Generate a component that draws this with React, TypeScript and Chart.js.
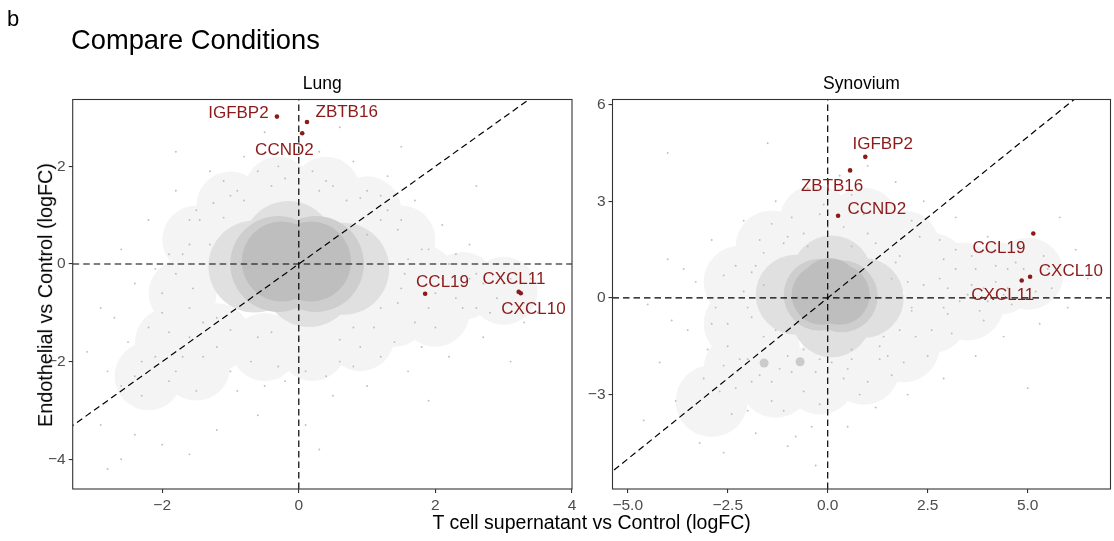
import React, { useEffect, useRef } from "react";
import { Chart, registerables } from "chart.js";

Chart.register(...registerables);

const FONT = '"Liberation Sans", Arial, Helvetica, sans-serif';
const RED = "#8B1A1A";

// ---------------- data ----------------
const geneNames = ["IGFBP2", "ZBTB16", "CCND2", "CCL19", "CXCL11", "CXCL10"];

// Lung panel: highlighted genes
const lungGeneX = [-0.32, 0.12, 0.05, 1.85, 3.22, 3.25];
const lungGeneY = [3.02, 2.91, 2.68, -0.61, -0.57, -0.6];
// Synovium panel: highlighted genes
const synGeneX = [0.94, 0.56, 0.26, 5.14, 4.85, 5.06];
const synGeneY = [4.38, 3.96, 2.55, 2.0, 0.54, 0.66];

// axes
const lungXLim = [-3.31, 4.0];
const lungYLim = [-4.61, 3.37];
const synXLim = [-5.38, 7.07];
const synYLim = [-5.93, 6.16];
const lungXTicks = [-2, 0, 2, 4];
const lungXLabels = ["\u22122", "0", "2", "4"];
const lungYTicks = [-4, -2, 0, 2];
const lungYLabels = ["\u22124", "\u22122", "0", "2"];
const synXTicks = [-5, -2.5, 0, 2.5, 5];
const synXLabels = ["\u22125.0", "\u22122.5", "0.0", "2.5", "5.0"];
const synYTicks = [-3, 0, 3, 6];
const synYLabels = ["\u22123", "0", "3", "6"];

// reference lines: horizontal / vertical at 0, identity diagonal
const refZero = 0;
const diagSpan = [-8, 8];

// background gene cloud (estimated density zones + sparse genes), Lung
const lungCore = [[-0.25, 0.05], [0.18, 0.05]];
const lungInner = [[-0.3, 0.0], [0.25, 0.0]];
const lungMid = [[-0.65, -0.05], [0.65, -0.1], [-0.15, 0.35], [0.15, -0.35]];
const lungFaint = [
  [-1.5, 0.5], [-1.0, 1.2], [-0.3, 1.5], [0.4, 1.5], [1.0, 1.1], [1.5, 0.5],
  [1.8, -0.3], [2.4, -0.45], [3.0, -0.55], [1.4, -1.0], [0.9, -1.5], [0.2, -1.7],
  [-0.5, -1.7], [-1.2, -1.5], [-1.7, -0.6], [-1.9, -1.6], [-2.2, -2.3], [-1.5, -2.1],
  [2.0, -1.0],
];
const lungDots = [
  [-2.8, -4.2], [-2.6, -4.0], [-2.4, -3.5], [-2.9, -3.3], [-2.0, -3.7], [-1.6, -3.9],
  [-1.2, -3.4], [-0.6, -3.1], [0.1, -3.3], [0.5, -2.7], [-0.2, -2.4], [-0.9, -2.6],
  [-1.5, -2.6], [-2.3, -2.7], [-2.8, -2.2], [-2.5, -1.6], [-2.9, -0.9], [-2.4, -0.4],
  [-2.6, 0.3], [-2.2, 0.9], [-1.8, 1.5], [-1.3, 1.9], [-0.8, 2.2], [-0.3, 2.0],
  [0.3, 2.3], [0.8, 2.1], [1.3, 1.8], [1.7, 1.3], [2.1, 0.8], [2.5, 0.4], [2.9, 0.0],
  [3.4, -0.3], [3.7, -0.8], [3.3, -1.2], [2.7, -1.5], [2.2, -1.9], [1.6, -2.2],
  [1.0, -2.5], [0.6, -2.0], [1.4, -1.6], [2.0, -1.3], [2.4, -0.9], [2.9, -0.7],
  [1.9, 0.3], [1.5, 0.9], [1.0, 1.5], [0.4, 1.7], [-0.4, 1.6], [-1.0, 1.4],
  [-1.6, 0.9], [-1.9, 0.2], [-2.0, -0.6], [-1.9, -1.4], [-1.4, -1.9], [-0.7, -2.0],
  [0.0, -1.9], [0.9, -1.7], [-0.5, 2.7], [0.6, 2.8], [1.5, 2.4], [-1.8, 2.3],
  [2.6, 1.6], [3.1, -2.0], [-3.1, -1.8], [0.0, 2.5], [0.3, -3.8], [1.9, -2.8],
  [2.3, 0.2], [3.0, -0.4], [2.6, -0.2],
  [-1.7, 0.2], [-1.5, 1.1], [-1.1, 1.7], [-0.6, 1.9], [0.2, 1.9], [0.7, 1.3],
  [1.2, 0.9], [1.6, 0.1], [2.0, -0.6], [2.5, -0.3], [2.8, -1.0], [3.2, -0.6],
  [3.5, -1.0], [1.7, -1.2], [1.2, -1.9], [0.4, -2.3], [-0.3, -2.1], [-1.0, -2.2],
  [-1.7, -1.9], [-2.2, -1.3], [-2.1, -0.1], [-1.6, -0.9], [-2.3, -2.0], [-2.6, -2.5],
  [-1.9, -2.4], [1.5, -0.5], [2.2, 0.0], [-1.3, 0.4], [-1.2, -1.1], [1.2, -0.9],
  [0.8, -1.3], [-0.4, -1.4], [0.3, 1.5], [-0.8, 1.3], [1.0, 0.6],
  [-1.45, 0.9], [-1.25, 1.25], [-0.9, 1.5], [-0.2, 1.75], [0.5, 1.6], [0.9, 1.35],
  [1.3, 1.1], [1.45, 0.7], [1.55, -0.2], [1.45, -0.8], [1.1, -1.3], [0.6, -1.55],
  [0.0, -1.55], [-0.6, -1.5], [-1.0, -1.35], [-1.4, -1.2], [-1.55, -0.5], [-1.6, 0.4],
  [-1.8, -0.2], [1.8, 0.3], [1.9, -0.9], [2.3, -0.7], [2.6, -0.9], [2.1, -0.3],
  [2.7, -0.4], [3.1, -0.3], [3.3, -0.8], [-1.2, -1.7], [-1.6, -1.5], [-2.0, -1.0],
  [-2.1, -1.9], [-1.8, -2.2], [-2.4, -2.3], [-1.1, 0.95], [1.2, 1.4], [0.1, -2.2],
  [-0.5, -2.5], [0.8, -2.1], [1.8, -1.7], [-2.7, -1.1],
];

// background gene cloud, Synovium
const synCore = [[-0.15, 0.1], [0.3, 0.1], [0.05, 0.3]];
const synInner = [[-0.2, 0.1], [0.35, 0.05]];
const synMid = [[-0.8, 0.1], [0.9, 0.0], [0.1, 0.7], [0.1, -0.6]];
const synFaint = [
  [-2.2, 0.5], [-1.4, 1.6], [-0.3, 2.4], [0.9, 2.3], [1.9, 1.6], [2.6, 0.9],
  [3.4, 0.6], [4.3, 0.6], [5.0, 0.75], [2.6, -0.6], [3.5, -0.2], [-2.2, -0.8],
  [-2.2, -2.2], [-1.3, -2.6], [-0.2, -2.5], [0.9, -2.2], [1.9, -1.5], [-2.9, -3.2],
  [-1.6, -1.5],
];
const synSpots = [[-1.59, -2.02], [-0.69, -1.98]];
const synDots = [
  [-4.5, -0.2], [-4.0, 1.2], [-3.5, -1.0], [-4.2, -2.0], [-3.8, -3.2], [-4.6, -3.8],
  [-3.2, -4.5], [-2.6, -4.8], [-1.8, -4.2], [-1.0, -4.6], [-0.3, -5.2], [0.5, -4.0],
  [1.2, -3.4], [2.0, -3.0], [2.9, -2.5], [3.7, -1.8], [4.4, -1.2], [5.3, -0.8],
  [6.0, -0.3], [6.5, 0.6], [6.2, 1.5], [5.8, 2.5], [5.4, 1.3], [4.8, 1.6], [4.0, 1.9],
  [3.2, 2.5], [2.4, 3.0], [1.7, 3.6], [1.0, 4.1], [0.3, 3.8], [-0.5, 3.4], [-1.3, 3.0],
  [-2.1, 2.4], [-2.9, 1.8], [-3.3, 0.5], [-2.8, -0.3], [-3.0, -1.6], [-2.7, -2.9],
  [-2.0, -3.5], [-1.1, -3.5], [-0.2, -3.3], [0.8, -3.0], [1.6, -2.4], [2.5, -1.8],
  [3.1, -1.1], [3.9, -0.7], [4.6, -0.2], [5.6, 0.3], [4.9, 0.9], [4.2, 1.0],
  [3.6, 1.3], [2.8, 1.8], [2.1, 2.4], [1.2, 2.9], [0.6, 3.2], [-0.1, 2.9],
  [-0.9, 2.5], [-1.7, 1.8], [-2.3, 1.0], [-2.5, -0.8], [-2.2, -1.9], [-1.4, -2.6],
  [-0.6, -2.9], [0.4, -2.5], [1.3, -1.9], [2.2, -1.2], [3.0, -0.5], [3.5, 0.1],
  [4.5, 0.3], [-4.0, 4.5], [-1.5, 4.8], [5.0, -2.8], [-0.8, -4.3],
  [-2.0, -0.3], [-1.8, 1.0], [-1.0, 1.9], [0.0, 2.2], [1.0, 2.0], [1.8, 1.3],
  [2.4, 0.4], [2.9, 1.2], [3.3, -0.1], [3.9, 0.3], [4.1, 1.4], [4.7, 1.1],
  [5.2, 0.2], [5.5, 0.9], [2.6, -1.0], [1.9, -2.0], [1.0, -2.6], [0.1, -2.0],
  [-0.9, -2.3], [-1.9, -2.6], [-2.5, -1.5], [-3.1, -2.5], [-2.4, -3.6], [-1.4, -3.2],
  [-0.4, -4.0], [1.6, 0.6], [2.1, -0.4], [-1.6, 0.4], [-1.3, -1.0], [-0.5, 1.6],
  [0.6, 1.6], [1.4, -1.2], [0.6, -1.6], [-0.6, -1.6], [-3.6, 0.9], [-3.9, -0.7],
  [4.0, -0.1], [3.0, 0.3], [3.7, 0.9], [4.5, 0.9],
  [-1.9, 0.8], [-1.6, 1.4], [-1.1, 1.7], [-0.6, 2.0], [0.4, 2.2], [1.2, 1.7],
  [1.7, 1.1], [2.0, 0.5], [2.1, -0.3], [1.8, -1.0], [1.3, -1.5], [0.6, -1.9],
  [-0.2, -1.9], [-1.0, -1.8], [-1.6, -1.2], [-1.9, -0.6], [-2.1, 0.2], [2.5, 0.0],
  [2.8, 0.6], [3.2, 0.9], [3.6, 0.4], [4.2, 0.5], [4.4, 0.1], [3.8, -0.4],
  [2.9, -0.3], [-2.0, -1.9], [-1.7, -2.4], [-2.3, -2.8], [-2.6, -2.1], [-1.2, -2.2],
  [-0.3, -2.3], [0.5, -2.2], [1.5, -1.8], [-2.6, 0.7], [-2.9, -0.8], [0.9, 2.6],
  [-0.2, 2.6], [-1.4, 2.3], [2.3, 1.9], [3.2, 1.5],
];

// ---------------- layout / style ----------------
// label offsets in pixels relative to the point (repelled label placement)
const lungLabelOffsets: Record<string, number[]> = {
  IGFBP2: [-38.5, -5], ZBTB16: [39.7, -10.7], CCND2: [-17.8, 15.3],
  CCL19: [17.4, -13.3], CXCL11: [-4.8, -13.7], CXCL10: [12.7, 14.4],
};
const synLabelOffsets: Record<string, number[]> = {
  IGFBP2: [17.4, -13.7], ZBTB16: [-18, 14.3], CCND2: [38.7, -7.7],
  CCL19: [-34.3, 13], CXCL11: [-18.9, 13.6], CXCL10: [40.8, -6.3],
};

const pts = (a: number[][]) => a.map(([x, y]) => ({ x, y }));

function blob(data: number[][], r: number, color: string, order: number) {
  return {
    data: pts(data),
    pointRadius: r,
    pointBackgroundColor: color,
    pointBorderWidth: 0,
    borderWidth: 0,
    order,
  };
}

function refLine(data: { x: number; y: number }[]) {
  return {
    data,
    showLine: true,
    borderColor: "#000000",
    borderWidth: 1.2,
    borderDash: [6.5, 4],
    pointRadius: 0,
    fill: false,
    order: 1,
  };
}

const boxPlugin = {
  id: "panelBox",
  afterDatasetsDraw(chart: any) {
    const { ctx, chartArea: a } = chart;
    ctx.save();
    ctx.strokeStyle = "#333333";
    ctx.lineWidth = 1.1;
    ctx.strokeRect(a.left, a.top, a.right - a.left, a.bottom - a.top);
    ctx.restore();
  },
};

function labelPlugin(offsets: Record<string, number[]>) {
  return {
    id: "geneLabels",
    afterDatasetsDraw(chart: any) {
      const { ctx } = chart;
      const meta = chart.getDatasetMeta(0);
      const size = 17;
      ctx.save();
      ctx.font = `${size}px ${FONT}`;
      ctx.fillStyle = RED;
      ctx.textAlign = "center";
      ctx.textBaseline = "alphabetic";
      geneNames.forEach((g, i) => {
        const el = meta.data[i];
        const [dx, dy] = offsets[g];
        ctx.fillText(g, el.x + dx, el.y + dy + 0.358 * size);
      });
      ctx.restore();
    },
  };
}

function makeConfig(s: any) {
  const genePts = s.geneX.map((x: number, i: number) => ({ x, y: s.geneY[i] }));
  const datasets: any[] = [
    {
      data: genePts,
      pointRadius: 2.3,
      pointBackgroundColor: RED,
      pointBorderWidth: 0,
      order: 0,
    },
    refLine([{ x: s.xLim[0], y: refZero }, { x: s.xLim[1], y: refZero }]),
    refLine([{ x: refZero, y: s.yLim[0] }, { x: refZero, y: s.yLim[1] }]),
    refLine([{ x: diagSpan[0], y: diagSpan[0] }, { x: diagSpan[1], y: diagSpan[1] }]),
    blob(s.dots, 0.95, "#BEBEBE", 2),
    blob(s.spots, 4.5, "#CBCBCB", 2),
    blob(s.core, s.coreR, "#BEBEBE", 3),
    blob(s.inner, s.innerR, "#CECECE", 4),
    blob(s.mid, s.midR, "#E0E0E0", 5),
    blob(s.faint, s.faintR, "#F4F4F4", 6),
  ];
  const tickFont = { family: FONT, size: 15.5 };
  const grid = {
    drawOnChartArea: false,
    drawTicks: true,
    tickLength: 4,
    color: "#333333",
    lineWidth: 1.1,
  };
  return {
    type: "scatter",
    data: { datasets },
    options: {
      animation: false,
      responsive: false,
      devicePixelRatio: 1,
      events: [],
      layout: { padding: s.pad, autoPadding: false },
      plugins: {
        legend: { display: false },
        tooltip: { enabled: false },
        title: { display: false },
      },
      scales: {
        x: {
          type: "linear",
          min: s.xLim[0],
          max: s.xLim[1],
          afterBuildTicks: (ax: any) => {
            ax.ticks = s.xTicks.map((v: number) => ({ value: v }));
          },
          afterFit: (ax: any) => {
            ax.height = 30;
          },
          ticks: {
            autoSkip: false,
            maxRotation: 0,
            padding: 3,
            color: "#4D4D4D",
            font: tickFont,
            callback: (_v: any, i: number) => s.xLabels[i],
          },
          grid,
          border: { display: false },
        },
        y: {
          type: "linear",
          min: s.yLim[0],
          max: s.yLim[1],
          afterBuildTicks: (ax: any) => {
            ax.ticks = s.yTicks.map((v: number) => ({ value: v }));
          },
          afterFit: (ax: any) => {
            ax.width = s.yAxisWidth;
          },
          ticks: {
            autoSkip: false,
            padding: 3,
            color: "#4D4D4D",
            font: tickFont,
            callback: (_v: any, i: number) => s.yLabels[i],
          },
          grid,
          border: { display: false },
        },
      },
    },
    plugins: [boxPlugin, labelPlugin(s.offsets)],
  };
}

const lungSpec = {
  xLim: lungXLim, yLim: lungYLim, xTicks: lungXTicks, xLabels: lungXLabels,
  yTicks: lungYTicks, yLabels: lungYLabels, geneX: lungGeneX, geneY: lungGeneY,
  offsets: lungLabelOffsets, core: lungCore, inner: lungInner, mid: lungMid,
  faint: lungFaint, dots: lungDots, spots: [] as number[][],
  coreR: 40, innerR: 48, midR: 46, faintR: 34,
  pad: { left: 32.7, right: 8, top: 99.5, bottom: 22 }, yAxisWidth: 40,
};
const synSpec = {
  xLim: synXLim, yLim: synYLim, xTicks: synXTicks, xLabels: synXLabels,
  yTicks: synYTicks, yLabels: synYLabels, geneX: synGeneX, geneY: synGeneY,
  offsets: synLabelOffsets, core: synCore, inner: synInner, mid: synMid,
  faint: synFaint, dots: synDots, spots: synSpots,
  coreR: 30, innerR: 36, midR: 40, faintR: 36,
  pad: { left: 2.5, right: 3.5, top: 99.5, bottom: 22 }, yAxisWidth: 30,
};

const textStyle = (size: number, extra: any = {}) => ({
  position: "absolute" as const,
  fontFamily: FONT,
  fontSize: size,
  lineHeight: 1,
  color: "#000",
  whiteSpace: "nowrap" as const,
  ...extra,
});

export default function App() {
  const lungRef = useRef<HTMLCanvasElement>(null);
  const synRef = useRef<HTMLCanvasElement>(null);

  useEffect(() => {
    const c1 = new Chart(lungRef.current as any, makeConfig(lungSpec) as any);
    const c2 = new Chart(synRef.current as any, makeConfig(synSpec) as any);
    return () => {
      c1.destroy();
      c2.destroy();
    };
  }, []);

  return (
    <div
      style={{
        position: "absolute",
        left: 0,
        top: 0,
        width: 1114,
        height: 541,
        background: "#fff",
        overflow: "hidden",
      }}
    >
      <canvas
        ref={lungRef}
        width={580}
        height={541}
        style={{ position: "absolute", left: 0, top: 0, width: 580, height: 541 }}
      />
      <canvas
        ref={synRef}
        width={534}
        height={541}
        style={{ position: "absolute", left: 580, top: 0, width: 534, height: 541 }}
      />
      <div style={textStyle(22, { left: 7, top: 8 })}>b</div>
      <div style={textStyle(27.3, { left: 71, top: 25.5 })}>Compare Conditions</div>
      <div style={textStyle(17.5, { left: 322.3, top: 84, transform: "translate(-50%, -50%)" })}>
        Lung
      </div>
      <div style={textStyle(17.5, { left: 861.5, top: 84, transform: "translate(-50%, -50%)" })}>
        Synovium
      </div>
      <div style={textStyle(19.5, { left: 591.6, top: 523, transform: "translate(-50%, -50%)" })}>
        T cell supernatant vs Control (logFC)
      </div>
      <div
        style={textStyle(19.8, {
          left: 46,
          top: 294.5,
          transform: "translate(-50%, -50%) rotate(-90deg)",
        })}
      >
        Endothelial vs Control (logFC)
      </div>
    </div>
  );
}
